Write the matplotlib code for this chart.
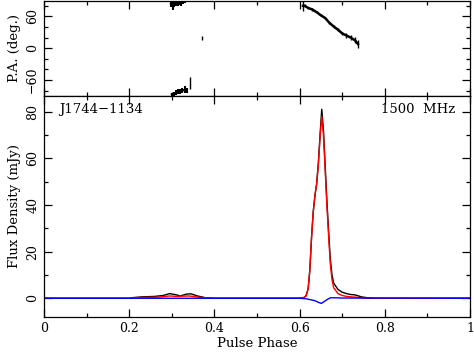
import matplotlib
matplotlib.use("Agg")
import matplotlib.pyplot as plt
from matplotlib.ticker import MultipleLocator

plt.rcParams['font.family'] = ['DejaVu Serif']

# ---- Total intensity (black)
phase_I = [0.00, 0.20, 0.21, 0.23, 0.26, 0.28, 0.295, 0.31, 0.32, 0.335, 0.345, 0.36, 0.38, 0.40,
           0.60, 0.610, 0.615, 0.620, 0.624, 0.628, 0.632, 0.636, 0.640, 0.644, 0.648, 0.652,
           0.656, 0.660, 0.664, 0.668, 0.672, 0.676, 0.680, 0.690, 0.700, 0.710, 0.720, 0.728,
           0.735, 0.745, 0.760, 0.780, 1.00]
flux_I = [0.0, 0.0, 0.3, 0.6, 0.8, 1.2, 2.0, 1.5, 1.0, 1.8, 1.9, 1.0, 0.2, 0.0,
          0.0, 0.3, 1.0, 4.0, 12.0, 26.0, 37.0, 44.0, 49.0, 58.0, 70.0, 81.0,
          72.0, 57.0, 42.0, 29.0, 17.0, 10.0, 6.5, 3.8, 2.6, 2.0, 1.6, 1.5,
          1.2, 0.6, 0.2, 0.0, 0.0]

# ---- Linear polarisation (red)
phase_L = [0.00, 0.20, 0.22, 0.27, 0.295, 0.31, 0.34, 0.37, 0.40,
           0.60, 0.610, 0.615, 0.620, 0.624, 0.628, 0.632, 0.636, 0.640, 0.644, 0.648, 0.652,
           0.656, 0.660, 0.664, 0.668, 0.672, 0.676, 0.680, 0.690, 0.700, 0.710, 0.720, 0.730,
           0.745, 0.760, 1.00]
flux_L = [0.0, 0.0, 0.3, 0.5, 1.0, 0.8, 1.0, 0.3, 0.0,
          0.0, 0.3, 1.0, 4.0, 12.0, 26.0, 37.0, 44.0, 49.0, 57.0, 69.0, 78.0,
          70.0, 55.0, 40.0, 27.0, 15.0, 8.0, 4.5, 2.0, 1.2, 0.8, 0.6, 0.5,
          0.2, 0.0, 0.0]

# ---- Circular polarisation (blue)
phase_V = [0.00, 0.60, 0.615, 0.625, 0.635, 0.645, 0.651, 0.657, 0.665, 0.672, 0.685, 0.700, 1.00]
flux_V = [0.0, 0.0, -0.2, -0.6, -1.0, -1.8, -2.2, -1.5, -0.5, 0.2, 0.2, 0.1, 0.0]

# ---- Position angle
pa_main_phase = [0.608, 0.612, 0.620, 0.630, 0.640, 0.650, 0.660, 0.670, 0.680, 0.690,
                 0.700, 0.710, 0.720, 0.730, 0.737]
pa_main = [80, 80, 76, 73, 68, 62, 57, 48, 41, 35, 28, 24, 20, 15, 8]
pa_main_err = [9, 3, 2, 2, 2, 2, 2, 2, 2, 3, 3, 4, 5, 6, 8]

pa_top_phase = [0.298, 0.302, 0.306, 0.310, 0.314, 0.318, 0.322, 0.326, 0.330]
pa_top = [84, 80, 83, 85, 83, 86, 84, 87, 88]
pa_top_err = [6, 8, 5, 5, 4, 4, 4, 3, 3]

pa_bot_phase = [0.300, 0.305, 0.310, 0.315, 0.320, 0.325, 0.330, 0.335]
pa_bot = [-87, -86, -84, -82, -81, -80, -78, -80]
pa_bot_err = [3, 4, 5, 5, 5, 5, 6, 5]

pa_iso_phase = [0.343, 0.372]
pa_iso = [-65, 19]
pa_iso_err = [11, 4]

W, H = 474, 352
fig = plt.figure(figsize=(W / 100, H / 100), dpi=100)
left = 44 / W
width = (470 - 44) / W
ax1 = fig.add_axes([left, 1 - 96 / H, width, 95.5 / H])
ax2 = fig.add_axes([left, 1 - 316.7 / H, width, (316.7 - 96) / H])

for ax in (ax1, ax2):
    ax.set_xlim(0, 1)
    ax.xaxis.set_major_locator(MultipleLocator(0.2))
    ax.xaxis.set_minor_locator(MultipleLocator(0.1))
    ax.tick_params(which='both', direction='in', top=True, right=True, labelsize=9,
                   width=0.9)
    ax.tick_params(which='major', length=6)
    ax.tick_params(which='minor', length=3)
    for s in ax.spines.values():
        s.set_linewidth(0.9)

# Top panel: PA
ax1.set_ylim(-90, 90)
ax1.yaxis.set_major_locator(MultipleLocator(60))
ax1.yaxis.set_minor_locator(MultipleLocator(20))
ax1.tick_params(labelbottom=False)
ax1.set_yticks([-60, 0, 60])
ax1.set_yticklabels(['\u221260', '0', '60'], rotation=90, va='center')
ax1.plot(pa_main_phase, pa_main, color='black', lw=1.8)
ax1.errorbar(pa_main_phase, pa_main, yerr=pa_main_err, fmt='none', ecolor='black', elinewidth=1.0)
ax1.errorbar(pa_top_phase, pa_top, yerr=pa_top_err, fmt='none', ecolor='black', elinewidth=1.5)
ax1.plot(pa_top_phase, pa_top, color='black', lw=1.5)
ax1.errorbar(pa_bot_phase, pa_bot, yerr=pa_bot_err, fmt='none', ecolor='black', elinewidth=1.5)
ax1.plot(pa_bot_phase, pa_bot, color='black', lw=1.5)
ax1.errorbar(pa_iso_phase, pa_iso, yerr=pa_iso_err, fmt='none', ecolor='black', elinewidth=1.0)
ax1.set_ylabel('P.A. (deg.)', fontsize=9.5, labelpad=4)

# Bottom panel: profile
ax2.set_ylim(-7.9, 86.7)
ax2.yaxis.set_major_locator(MultipleLocator(20))
ax2.yaxis.set_minor_locator(MultipleLocator(10))
ax2.set_yticks([0, 20, 40, 60, 80])
ax2.set_yticklabels(['0', '20', '40', '60', '80'], rotation=90, va='center')
ax2.plot(phase_I, flux_I, color='black', lw=1.0)
ax2.plot(phase_L, flux_L, color='red', lw=1.0)
ax2.plot(phase_V, flux_V, color='blue', lw=1.0)
ax2.set_xticks([0, 0.2, 0.4, 0.6, 0.8, 1.0])
ax2.set_xticklabels(['0', '0.2', '0.4', '0.6', '0.8', '1'])
ax2.set_xlabel('Pulse Phase', fontsize=9.5, labelpad=2)
ax2.set_ylabel('Flux Density (mJy)', fontsize=9.5, labelpad=4)
ax2.text(0.035, 0.94, 'J1744\u22121134', transform=ax2.transAxes, fontsize=9.5,
         ha='left', va='center')
ax2.text(0.965, 0.94, '1500  MHz', transform=ax2.transAxes, fontsize=9.5,
         ha='right', va='center')

fig.savefig('out.png', dpi=100)
